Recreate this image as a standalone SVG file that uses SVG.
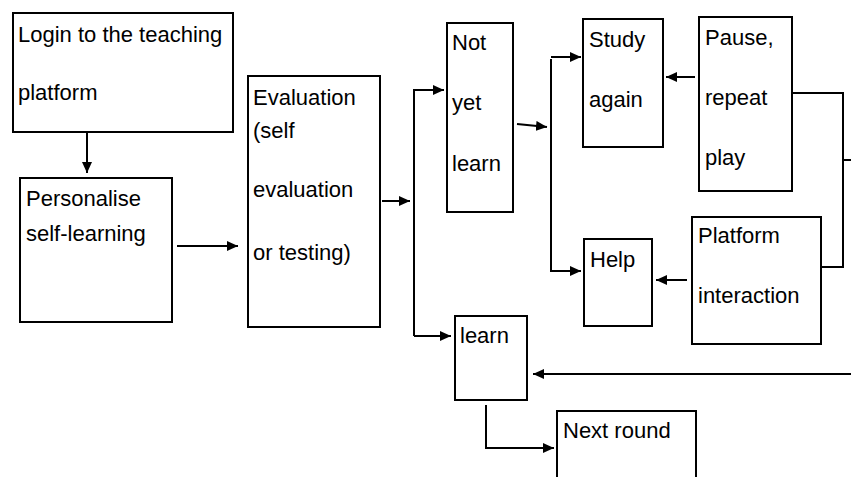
<svg xmlns="http://www.w3.org/2000/svg" width="851" height="477" viewBox="0 0 851 477">
<style>
.box{fill:#fff;stroke:#000;stroke-width:2}
.t{font-family:"Liberation Sans",Arial,sans-serif;font-size:22px;fill:#000}
.c{fill:none;stroke:#000;stroke-width:2}
.a{fill:none;stroke:#000;stroke-width:2;marker-end:url(#ah)}
</style>
<defs>
<marker id="ah" markerUnits="userSpaceOnUse" markerWidth="12" markerHeight="10" refX="11" refY="5" orient="auto">
<path d="M0,0 L11,5 L0,10 z" fill="#000"/>
</marker>
</defs>
<rect width="851" height="477" fill="#fff"/>
<g id="connectors">
<path class="a" d="M87,133 V173"/>
<path class="a" d="M177,246 H238"/>
<path class="a" d="M382,201 H410"/>
<path class="c" d="M414,89 V336"/>
<path class="a" d="M414,90 H444"/>
<path class="a" d="M414,336 H451"/>
<path class="a" d="M517,124 L547,127"/>
<path class="a" d="M551,59 V271 H581"/>
<path class="a" d="M551,57 H581"/>
<path class="a" d="M695,77 H666"/>
<path class="a" d="M687,280 H656"/>
<path class="c" d="M793,93 H843 V267 H822"/>
<path class="c" d="M843,160 H851"/>
<path class="a" d="M851,374 H533"/>
<path class="a" d="M486,405 V448 H554"/>
</g>
<g id="login"><rect class="box" x="13" y="13" width="220" height="119"/>
<text class="t" x="18" y="42">Login to the teaching</text><text class="t" x="18" y="100">platform</text></g>
<g id="personalise"><rect class="box" x="20" y="178" width="152" height="144"/>
<text class="t" x="26" y="206">Personalise</text><text class="t" x="26" y="241">self-learning</text></g>
<g id="evaluation"><rect class="box" x="248" y="76" width="132" height="251"/>
<text class="t" x="253" y="105">Evaluation</text><text class="t" x="253" y="138">(self</text><text class="t" x="253" y="197">evaluation</text><text class="t" x="253" y="260">or testing)</text></g>
<g id="notyet"><rect class="box" x="447" y="23" width="66" height="189"/>
<text class="t" x="452" y="50">Not</text><text class="t" x="452" y="110">yet</text><text class="t" x="452" y="171">learn</text></g>
<g id="study"><rect class="box" x="583" y="19" width="80" height="128"/>
<text class="t" x="589" y="47">Study</text><text class="t" x="589" y="107">again</text></g>
<g id="pause"><rect class="box" x="699" y="17" width="93" height="174"/>
<text class="t" x="705" y="45">Pause,</text><text class="t" x="705" y="105">repeat</text><text class="t" x="705" y="165">play</text></g>
<g id="platform"><rect class="box" x="692" y="217" width="129" height="127"/>
<text class="t" x="698" y="243">Platform</text><text class="t" x="698" y="303">interaction</text></g>
<g id="help"><rect class="box" x="584" y="239" width="68" height="87"/>
<text class="t" x="590" y="267">Help</text></g>
<g id="learn"><rect class="box" x="455" y="316" width="72" height="84"/>
<text class="t" x="460" y="343">learn</text></g>
<g id="nextround"><rect class="box" x="557" y="411" width="139" height="80"/>
<text class="t" x="563" y="438">Next round</text></g>
</svg>
